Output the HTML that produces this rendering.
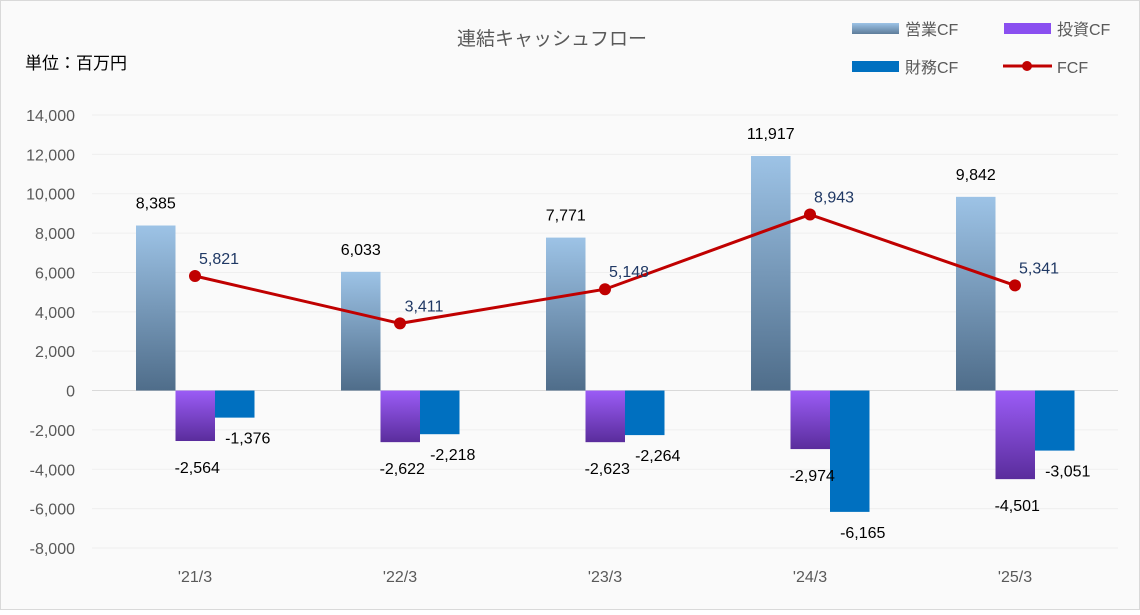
<!DOCTYPE html>
<html><head><meta charset="utf-8"><style>
body{margin:0;background:#fff;}
#wrap{position:relative;width:1140px;height:610px;}
svg text{font-family:"Liberation Sans","Noto Sans CJK JP",sans-serif;}
</style></head><body>
<div id="wrap">
<svg id="chart" width="1140" height="610" xmlns="http://www.w3.org/2000/svg">
<defs>
<linearGradient id="gOp" x1="0" y1="0" x2="0" y2="1"><stop offset="0" stop-color="#9dc3e6"/><stop offset="1" stop-color="#4f6d8a"/></linearGradient>
<linearGradient id="gInv" x1="0" y1="0" x2="0" y2="1"><stop offset="0" stop-color="#9b5cf6"/><stop offset="1" stop-color="#5a2d9c"/></linearGradient>
<linearGradient id="gOpL" x1="0" y1="0" x2="0" y2="1"><stop offset="0" stop-color="#9dc3e6"/><stop offset="1" stop-color="#5d7c99"/></linearGradient>
</defs>
<rect x="0.5" y="0.5" width="1139" height="609" fill="#fafafa" stroke="#d9d9d9"/>
<text x="552" y="45" font-size="19" fill="#595959" text-anchor="middle">連結キャッシュフロー</text>
<text x="25" y="69" font-size="17" fill="#000">単位：百万円</text>
<g>
<rect x="852" y="23" width="47" height="11" fill="url(#gOpL)"/>
<text x="905" y="35" font-size="16" fill="#595959">営業CF</text>
<rect x="1004" y="23" width="47" height="11" fill="#8a4ff0"/>
<text x="1057" y="35" font-size="16" fill="#595959">投資CF</text>
<rect x="852" y="61" width="47" height="11" fill="#0070c0"/>
<text x="905" y="73" font-size="16" fill="#595959">財務CF</text>
<line x1="1003" y1="66" x2="1052" y2="66" stroke="#c00000" stroke-width="3"/>
<circle cx="1027" cy="66" r="5" fill="#c00000"/>
<text x="1057" y="73" font-size="16" fill="#595959">FCF</text>
</g>
<g id="grid"></g><g id="bars"></g><g id="line"></g><g id="labels"></g>
</svg></div>
<script>
const categories=["'21/3","'22/3","'23/3","'24/3","'25/3"];
const operatingCF=[8385,6033,7771,11917,9842];
const investingCF=[-2564,-2622,-2623,-2974,-4501];
const financingCF=[-1376,-2218,-2264,-6165,-3051];
const freeCF=[5821,3411,5148,8943,5341];
const yTicks=[14000,12000,10000,8000,6000,4000,2000,0,-2000,-4000,-6000,-8000];
const NS="http://www.w3.org/2000/svg";
const yMin=-8000,yMax=14000,pTop=115,pBot=548,left=92,right=1118;
function y(v){return pBot-(v-yMin)/(yMax-yMin)*(pBot-pTop);}
function xc(i){return 195+i*205;}
const bw=39.5;
function mk(tag,attrs,parent,txt){const e=document.createElementNS(NS,tag);for(const k in attrs)e.setAttribute(k,attrs[k]);if(txt!==undefined)e.textContent=txt;document.getElementById(parent).appendChild(e);return e;}
function fmt(v){return (v<0?"-":"")+Math.abs(v).toLocaleString("en-US");}
yTicks.forEach(t=>{
 const l=mk("line",{x1:left,x2:right,y1:y(t),y2:y(t),stroke:t===0?"#d9d9d9":"#efefef","stroke-width":1},"grid");
 
 
 const tx=mk("text",{x:75,y:y(t)+6,"font-size":16,fill:"#595959","text-anchor":"end"},"grid",fmt(t));
 
 
});
categories.forEach((c,i)=>{
 const tx=mk("text",{x:xc(i),y:582,"font-size":16,fill:"#595959","text-anchor":"middle"},"grid",c);
 
 
 const series=[[operatingCF,"url(#gOp)","operating"],[investingCF,"url(#gInv)","investing"],[financingCF,"#0070c0","financing"]];
 series.forEach((s,k)=>{
  const v=s[0][i];const x0=xc(i)-59+k*bw;
  const r=mk("rect",{x:x0,y:Math.min(y(v),y(0)),width:bw,height:Math.abs(y(v)-y(0)),fill:s[1]},"bars");
  
  
  let lx,ly;
  if(k===0){lx=x0+bw/2;ly=y(v)-17;}
  else if(k===1){lx=x0+bw/2+2;ly=y(v)+32;}
  else{lx=x0+bw/2+13;ly=y(v)+26;}
  const t=mk("text",{x:lx,y:ly,"font-size":16,fill:"#000","text-anchor":"middle"},"labels",fmt(v));
  
  
 });
});
const pts=freeCF.map((v,i)=>xc(i)+","+y(v)).join(" ");
const pl=mk("polyline",{points:pts,fill:"none",stroke:"#c00000","stroke-width":3},"line");


freeCF.forEach((v,i)=>{
 const c=mk("circle",{cx:xc(i),cy:y(v),r:6,fill:"#c00000"},"line");
 
 
 const t=mk("text",{x:xc(i)+24,y:y(v)-12,"font-size":16,fill:"#1f3864","text-anchor":"middle"},"labels",fmt(v));
 
 
});
</script>
</body></html>
